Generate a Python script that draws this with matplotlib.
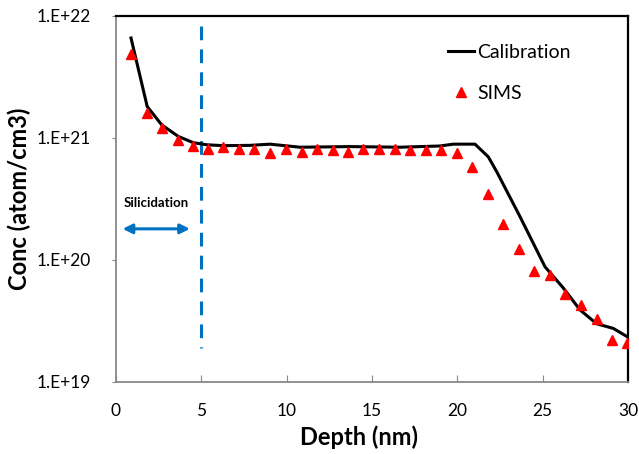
import matplotlib
matplotlib.use("Agg")
import matplotlib.pyplot as plt
import numpy as np

plt.rcParams['font.family'] = ['Lato', 'DejaVu Sans']

# SIMS profile
sims_depth = [0.86, 1.80, 2.68, 3.61, 4.49, 5.41, 6.29, 7.22, 8.10, 9.02, 9.96,
              10.88, 11.76, 12.69, 13.57, 14.49, 15.42, 16.34, 17.22, 18.14, 19.04,
              19.96, 20.84, 21.78, 22.69, 23.59, 24.51, 25.43, 26.30, 27.24, 28.16,
              29.04, 29.95]
sims_conc = [4.9e21, 1.6e21, 1.21e21, 9.6e20, 8.6e20, 8.2e20, 8.4e20, 8.2e20, 8.1e20,
             7.6e20, 8.1e20, 7.7e20, 8.1e20, 7.9e20, 7.7e20, 8.1e20, 8.2e20, 8.1e20,
             7.9e20, 7.9e20, 7.9e20, 7.5e20, 5.8e20, 3.5e20, 1.96e20, 1.22e20, 8.1e19,
             7.5e19, 5.3e19, 4.3e19, 3.3e19, 2.2e19, 2.1e19]

# calibration curve
cal_depth = [0.88, 1.83, 2.68, 3.65, 4.53, 5.31, 6.29, 7.85, 9.02, 10.78, 13.71,
             16.64, 18.98, 19.76, 21.03, 21.81, 22.30, 23.67, 25.13, 26.20, 27.18,
             28.16, 29.13, 29.95]
cal_conc = [6.6e21, 1.81e21, 1.28e21, 1.03e21, 9.15e20, 8.8e20, 8.65e20, 8.7e20,
            8.9e20, 8.4e20, 8.5e20, 8.4e20, 8.6e20, 8.9e20, 8.9e20, 7.0e20, 5.3e20,
            2.26e20, 8.8e19, 5.9e19, 3.9e19, 3.0e19, 2.75e19, 2.35e19]

# silicidation marker
sil_depth = 5
sil_span = [8.3e21, 1.9e19]
arrow_x = [0.39, 4.33]
arrow_y = 1.8e20

blue = '#0070C0'

fig = plt.figure(figsize=(6.39, 4.54), dpi=100)
ax = fig.add_axes([0.1815, 0.1586, 0.8015, 0.8062])

ax.plot(cal_depth, cal_conc, color='black', lw=2.2, label='Calibration', zorder=3)
ax.plot(sims_depth, sims_conc, ls='none', marker='^', ms=7.5, color='#FF0000',
        mec='#FF0000', label='SIMS', zorder=4)

ax.plot([sil_depth, sil_depth], sil_span, color=blue, lw=2.2, dashes=(4.5, 3), zorder=2)
ax.annotate('', xy=(arrow_x[0], arrow_y), xytext=(arrow_x[1], arrow_y),
            arrowprops=dict(arrowstyle='<|-|>', color=blue, lw=2.2,
                            mutation_scale=14, shrinkA=0, shrinkB=0))
ax.text(sum(arrow_x) / 2, 2.95e20, 'Silicidation', ha='center', va='center',
        fontsize=9.5, fontweight='bold')

ax.set_yscale('log')
ax.set_xlim(0, 30)
ax.set_ylim(1e19, 1e22)
ax.set_xticks(range(0, 31, 5))
ax.set_yticks([1e19, 1e20, 1e21, 1e22])
ax.set_yticklabels(['1.E+19', '1.E+20', '1.E+21', '1.E+22'])
ax.yaxis.set_minor_locator(matplotlib.ticker.NullLocator())

for s in ['left', 'bottom']:
    ax.spines[s].set_color('#888888')
    ax.spines[s].set_linewidth(1.3)
for s in ['top', 'right']:
    ax.spines[s].set_color('black')
    ax.spines[s].set_linewidth(1.6)

ax.tick_params(axis='x', direction='in', length=5, color='#888888', pad=15,
               labelsize=12.5, top=False)
ax.tick_params(axis='y', direction='out', length=3, color='#888888', pad=15,
               labelsize=12.5, right=False)

ax.set_xlabel('Depth (nm)', fontsize=17, fontweight='bold')
ax.xaxis.set_label_coords(0.475, -0.118)
ax.set_ylabel('Conc (atom/cm3)', fontsize=17, fontweight='bold', labelpad=4)

ax.legend(loc='upper right', bbox_to_anchor=(0.915, 0.96), frameon=False,
          fontsize=14, handlelength=1.3, handletextpad=0.2, labelspacing=1.2,
          borderaxespad=0.3)

fig.savefig('out.png', dpi=100)
